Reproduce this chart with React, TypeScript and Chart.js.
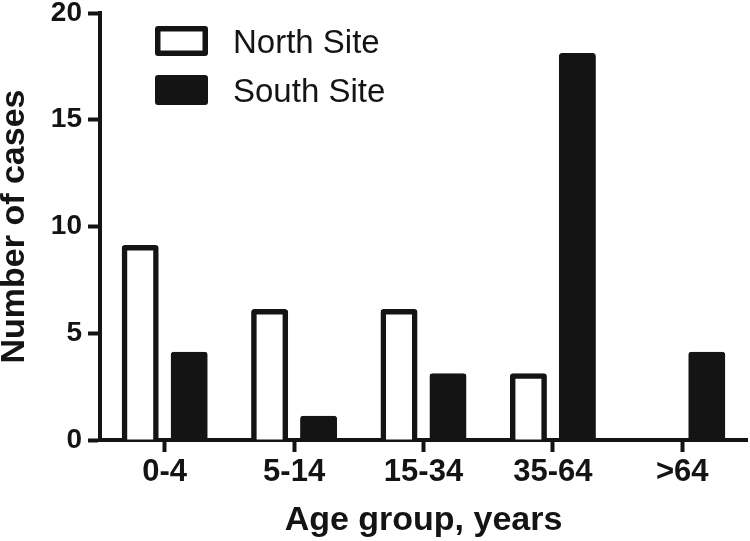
import React, { useEffect, useRef } from "react";
import { Chart, registerables } from "chart.js";

Chart.register(...registerables);

const categories = ["0-4", "5-14", "15-34", "35-64", ">64"];
const northSite = [9, 6, 6, 3, 0];
const southSite = [4, 1, 3, 18, 4];
const yTickValues = [0, 5, 10, 15, 20];
const seriesLabels = ["North Site", "South Site"];
const xTitle = "Age group, years";
const yTitle = "Number of cases";

const INK = "#141414";
const FONT = "'Liberation Sans', Arial, Helvetica, sans-serif";

const insideLegend = {
  id: "insideLegend",
  afterDraw(chart: any) {
    const ctx = chart.ctx as CanvasRenderingContext2D;
    ctx.save();
    chart.data.datasets.forEach((ds: any, i: number) => {
      const bx = 155;
      const by = 26 + i * 49;
      const bw = 53;
      const bh = 30;
      const bwid = 5.5;
      ctx.fillStyle = ds.borderColor;
      ctx.beginPath();
      (ctx as any).roundRect(bx, by, bw, bh, 3);
      ctx.fill();
      ctx.fillStyle = ds.backgroundColor;
      ctx.beginPath();
      ctx.rect(bx + bwid, by + bwid, bw - 2 * bwid, bh - 2 * bwid);
      ctx.fill();
      ctx.fillStyle = INK;
      ctx.font = `33px ${FONT}`;
      ctx.textAlign = "left";
      ctx.textBaseline = "alphabetic";
      ctx.fillText(ds.label, 233, by + bh - 2.7);
    });
    ctx.restore();
  },
};

const inflate = (c: any) => (c.raw === 0 ? 0 : 2.8);

export default function App() {
  const ref = useRef<HTMLCanvasElement | null>(null);

  useEffect(() => {
    if (!ref.current) return;
    Chart.defaults.font.family = FONT;
    const chart = new Chart(ref.current, {
      type: "bar",
      data: {
        labels: categories,
        datasets: [
          {
            label: seriesLabels[0],
            data: northSite,
            backgroundColor: "#ffffff",
            borderColor: INK,
            borderWidth: 5.5,
            borderRadius: 3,
            borderSkipped: "start",
            inflateAmount: inflate,
          } as any,
          {
            label: seriesLabels[1],
            data: southSite,
            backgroundColor: INK,
            borderColor: INK,
            borderWidth: 5.5,
            borderRadius: 3,
            borderSkipped: "start",
            inflateAmount: inflate,
          } as any,
        ],
      },
      options: {
        responsive: false,
        animation: false,
        barPercentage: 0.641,
        categoryPercentage: 0.757,
        layout: { padding: { top: 13, right: 3, left: 0, bottom: 0 } },
        plugins: {
          legend: { display: false },
          tooltip: { enabled: false },
        },
        scales: {
          x: {
            offset: true,
            grid: {
              display: true,
              drawOnChartArea: false,
              drawTicks: true,
              tickLength: 12,
              tickWidth: 4,
              tickColor: INK,
              offset: false,
            },
            border: { display: true, color: INK, width: 4 },
            ticks: {
              color: INK,
              font: { family: FONT, size: 31, weight: "bold" },
              padding: 2,
              maxRotation: 0,
              autoSkip: false,
            },
            title: {
              display: true,
              text: xTitle,
              color: INK,
              font: { family: FONT, size: 34, weight: "bold", lineHeight: 1 },
              padding: { top: 0, bottom: 3.5 },
            },
            afterFit(s: any) {
              s.height = 101;
              s.paddingLeft = 0;
              s.paddingRight = 0;
            },
          },
          y: {
            min: 0,
            max: 20,
            grid: {
              drawOnChartArea: false,
              drawTicks: true,
              tickLength: 12,
              tickWidth: 4,
              tickColor: INK,
            },
            border: { display: true, color: INK, width: 4 },
            afterBuildTicks(s: any) {
              s.ticks = yTickValues.map((v) => ({ value: v }));
            },
            ticks: {
              color: INK,
              font: { family: FONT, size: 28, weight: "bold", lineHeight: 1 },
              padding: 6,
            },
            title: {
              display: true,
              text: yTitle,
              color: INK,
              font: { family: FONT, size: 34, weight: "bold", lineHeight: 1 },
              padding: { top: -2, bottom: 0 },
            },
            afterFit(s: any) {
              s.width = 100;
              s.paddingTop = 0;
              s.paddingBottom = 0;
            },
          },
        },
      } as any,
      plugins: [insideLegend],
    });
    return () => chart.destroy();
  }, []);

  return (
    <div style={{ position: "absolute", left: 0, top: 0, width: 750, height: 541, background: "#fff" }}>
      <canvas ref={ref} width={750} height={541} style={{ display: "block" }} />
    </div>
  );
}
